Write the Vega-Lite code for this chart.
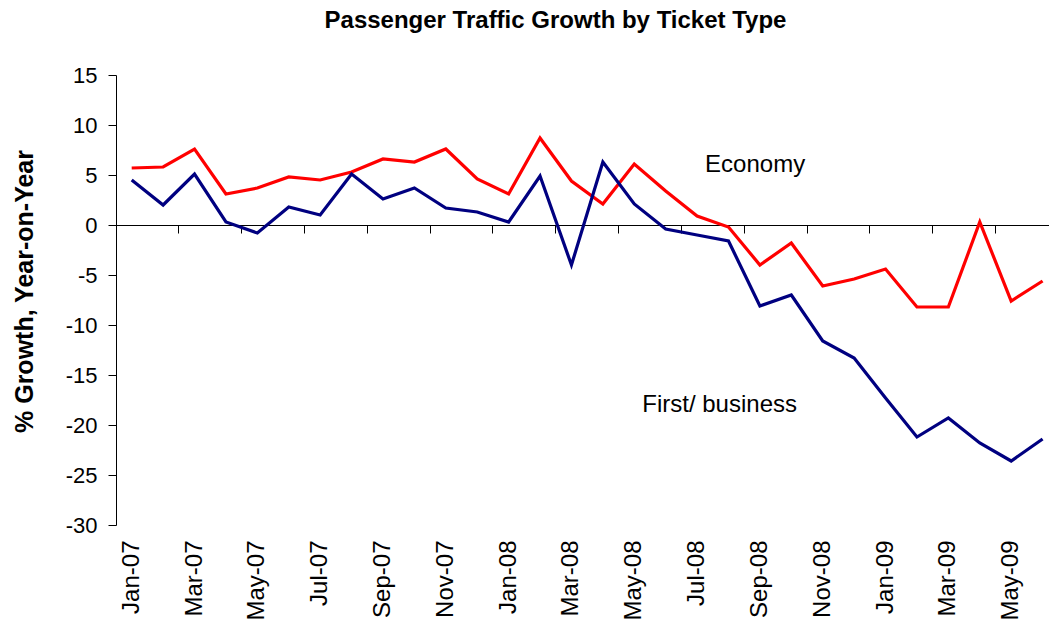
{
  "$schema": "https://vega.github.io/schema/vega-lite/v6.json",
  "width": 933,
  "height": 450,
  "autosize": {"type": "none"},
  "padding": {"left": 116, "top": 75, "right": 0, "bottom": 102},
  "background": "white",
  "config": {"view": {"stroke": null}, "font": "Liberation Sans"},
  "title": {"text": "Passenger Traffic Growth by Ticket Type", "fontSize": 24, "fontWeight": "bold", "color": "black", "anchor": "middle", "dx": -27, "offset": 31},
  "datasets": {
    "series": [
      {"month": "Jan-07", "type": "Economy", "value": 5.7},
      {"month": "Feb-07", "type": "Economy", "value": 5.8},
      {"month": "Mar-07", "type": "Economy", "value": 7.6},
      {"month": "Apr-07", "type": "Economy", "value": 3.1},
      {"month": "May-07", "type": "Economy", "value": 3.7},
      {"month": "Jun-07", "type": "Economy", "value": 4.8},
      {"month": "Jul-07", "type": "Economy", "value": 4.5},
      {"month": "Aug-07", "type": "Economy", "value": 5.3},
      {"month": "Sep-07", "type": "Economy", "value": 6.6},
      {"month": "Oct-07", "type": "Economy", "value": 6.3},
      {"month": "Nov-07", "type": "Economy", "value": 7.6},
      {"month": "Dec-07", "type": "Economy", "value": 4.6},
      {"month": "Jan-08", "type": "Economy", "value": 3.1},
      {"month": "Feb-08", "type": "Economy", "value": 8.7},
      {"month": "Mar-08", "type": "Economy", "value": 4.4},
      {"month": "Apr-08", "type": "Economy", "value": 2.1},
      {"month": "May-08", "type": "Economy", "value": 6.1},
      {"month": "Jun-08", "type": "Economy", "value": 3.4},
      {"month": "Jul-08", "type": "Economy", "value": 0.9},
      {"month": "Aug-08", "type": "Economy", "value": -0.2},
      {"month": "Sep-08", "type": "Economy", "value": -4.0},
      {"month": "Oct-08", "type": "Economy", "value": -1.8},
      {"month": "Nov-08", "type": "Economy", "value": -6.1},
      {"month": "Dec-08", "type": "Economy", "value": -5.4},
      {"month": "Jan-09", "type": "Economy", "value": -4.4},
      {"month": "Feb-09", "type": "Economy", "value": -8.2},
      {"month": "Mar-09", "type": "Economy", "value": -8.2},
      {"month": "Apr-09", "type": "Economy", "value": 0.3},
      {"month": "May-09", "type": "Economy", "value": -7.6},
      {"month": "Jun-09", "type": "Economy", "value": -5.6},
      {"month": "Jan-07", "type": "First/ business", "value": 4.5},
      {"month": "Feb-07", "type": "First/ business", "value": 2.0},
      {"month": "Mar-07", "type": "First/ business", "value": 5.1},
      {"month": "Apr-07", "type": "First/ business", "value": 0.3},
      {"month": "May-07", "type": "First/ business", "value": -0.8},
      {"month": "Jun-07", "type": "First/ business", "value": 1.8},
      {"month": "Jul-07", "type": "First/ business", "value": 1.0},
      {"month": "Aug-07", "type": "First/ business", "value": 5.1},
      {"month": "Sep-07", "type": "First/ business", "value": 2.6},
      {"month": "Oct-07", "type": "First/ business", "value": 3.7},
      {"month": "Nov-07", "type": "First/ business", "value": 1.7},
      {"month": "Dec-07", "type": "First/ business", "value": 1.3},
      {"month": "Jan-08", "type": "First/ business", "value": 0.3},
      {"month": "Feb-08", "type": "First/ business", "value": 4.9},
      {"month": "Mar-08", "type": "First/ business", "value": -4.0},
      {"month": "Apr-08", "type": "First/ business", "value": 6.3},
      {"month": "May-08", "type": "First/ business", "value": 2.1},
      {"month": "Jun-08", "type": "First/ business", "value": -0.4},
      {"month": "Jul-08", "type": "First/ business", "value": -1.0},
      {"month": "Aug-08", "type": "First/ business", "value": -1.6},
      {"month": "Sep-08", "type": "First/ business", "value": -8.1},
      {"month": "Oct-08", "type": "First/ business", "value": -7.0},
      {"month": "Nov-08", "type": "First/ business", "value": -11.6},
      {"month": "Dec-08", "type": "First/ business", "value": -13.3},
      {"month": "Jan-09", "type": "First/ business", "value": -17.3},
      {"month": "Feb-09", "type": "First/ business", "value": -21.2},
      {"month": "Mar-09", "type": "First/ business", "value": -19.3},
      {"month": "Apr-09", "type": "First/ business", "value": -21.8},
      {"month": "May-09", "type": "First/ business", "value": -23.6},
      {"month": "Jun-09", "type": "First/ business", "value": -21.4}
    ],
    "labels": [
      {"month": "Jul-08", "value": 6.0, "text": "Economy"},
      {"month": "May-08", "value": -18.0, "text": "First/ business"}
    ]
  },
  "resolve": {"axis": {"x": "independent"}},
  "layer": [
    {
      "data": {"name": "series"},
      "mark": {"type": "line", "strokeWidth": 3.2},
      "encoding": {
        "x": {
          "field": "month", "type": "ordinal",
          "scale": {"type": "band", "paddingInner": 0, "paddingOuter": 0, "range": [0, 942.3],
            "domain": ["Jan-07","Feb-07","Mar-07","Apr-07","May-07","Jun-07","Jul-07","Aug-07","Sep-07","Oct-07","Nov-07","Dec-07","Jan-08","Feb-08","Mar-08","Apr-08","May-08","Jun-08","Jul-08","Aug-08","Sep-08","Oct-08","Nov-08","Dec-08","Jan-09","Feb-09","Mar-09","Apr-09","May-09","Jun-09"]},
          "axis": {
            "orient": "bottom", "title": null, "ticks": false, "domain": false, "grid": false,
            "values": ["Jan-07","Mar-07","May-07","Jul-07","Sep-07","Nov-07","Jan-08","Mar-08","May-08","Jul-08","Sep-08","Nov-08","Jan-09","Mar-09","May-09"],
            "labelAngle": -90, "labelAlign": "right", "labelBaseline": "middle",
            "labelFontSize": 24, "labelColor": "black", "labelPadding": 15, "labelOverlap": false
          }
        },
        "y": {
          "field": "value", "type": "quantitative",
          "scale": {"domain": [-30, 15], "nice": false, "zero": false},
          "axis": {
            "title": "% Growth, Year-on-Year", "titleFontSize": 25, "titleFontWeight": "bold", "titleColor": "black", "titlePadding": 28, "titleY": 216,
            "values": [-30, -25, -20, -15, -10, -5, 0, 5, 10, 15],
            "labelExpr": "'' + datum.value",
            "grid": false, "tickSize": 8, "tickColor": "black", "domainColor": "black",
            "labelFontSize": 22, "labelColor": "black", "labelPadding": 11
          }
        },
        "color": {
          "field": "type", "type": "nominal",
          "scale": {"domain": ["Economy", "First/ business"], "range": ["#FF0000", "#000080"]},
          "legend": null
        }
      }
    },
    {
      "data": {"name": "labels"},
      "mark": {"type": "text", "align": "left", "baseline": "middle", "dx": 8, "fontSize": 24, "color": "black"},
      "encoding": {
        "x": {
          "field": "month", "type": "ordinal",
          "axis": {
            "orient": "bottom", "offset": -300, "title": null, "labels": false, "grid": false,
            "ticks": true, "bandPosition": 0, "tickExtra": false, "tickSize": 8, "tickColor": "black",
            "domain": true, "domainColor": "black",
            "values": ["Mar-07","May-07","Jul-07","Sep-07","Nov-07","Jan-08","Mar-08","May-08","Jul-08","Sep-08","Nov-08","Jan-09","Mar-09","May-09"]
          }
        },
        "y": {"field": "value", "type": "quantitative"},
        "text": {"field": "text"}
      }
    }
  ]
}
